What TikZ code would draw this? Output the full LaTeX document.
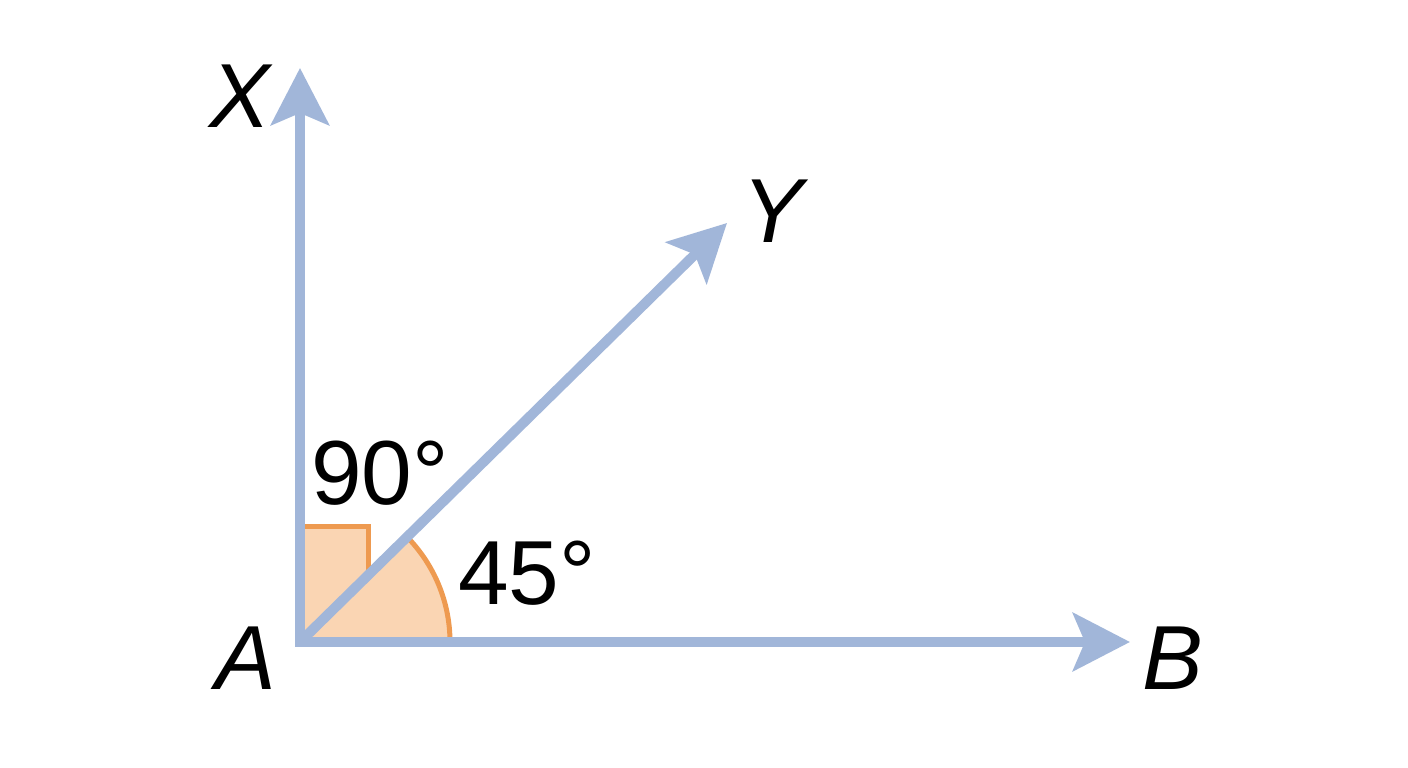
\documentclass[tikz,border=0pt]{standalone}
\usepackage{fontspec}
\setmainfont{Liberation Sans}
\usetikzlibrary{arrows.meta}
\definecolor{rayblue}{HTML}{A1B6D9}
\definecolor{angstroke}{HTML}{EE9A50}
\definecolor{angfill}{HTML}{FAD5B3}
\begin{document}
\begin{tikzpicture}[x=1pt,y=1pt,
  ray/.style={draw=rayblue, line width=10pt, -{Stealth[length=57pt,width=58pt,inset=12pt]}},
  lbl/.style={anchor=base, inner sep=0pt, font=\fontsize{91}{100}\selectfont\itshape},
  deg/.style={anchor=base, inner sep=0pt, font=\fontsize{91}{100}\selectfont},
  angmark/.style={draw=angstroke, line width=5pt}]
\useasboundingbox (0,0) rectangle (1408,768);
\fill[white] (0,0) rectangle (1408,768);
\coordinate (A) at (300,126);
\coordinate (Xt) at (300,700);
\coordinate (Yt) at (727,545);
\coordinate (Bt) at (1130,126);
\coordinate (sqTL) at (300,241);
\coordinate (sqTR) at (368,241);
\coordinate (sqBR) at (368,194);
\coordinate (arcS) at (450,126);
% right-angle marker
\fill[angfill] (A) -- (sqTL) -- (sqTR) -- (sqBR) -- cycle;
\draw[angmark] (sqTL) -- (sqTR) -- (sqBR);
% 45 degree sector
\fill[angfill] (A) -- (arcS) arc[start angle=0, end angle=45, radius=150pt] -- cycle;
\draw[angmark] (arcS) arc[start angle=0, end angle=45, radius=150pt];
% rays
\draw[ray] (A) -- (Xt);
\draw[ray] (A) -- (Yt);
\draw[ray] ([xshift=-5pt]A) -- (Bt);
\fill[rayblue] (295,121) rectangle (305,131);
% labels
\node[lbl] (lX) at (240,640) {X};
\node[lbl] (lY) at (773,525) {Y};
\node[lbl] (lA) at (246,78) {A};
\node[lbl] (lB) at (1173,78) {B};
\node[deg] (d90) at (380,263) {90°};
\node[deg] (d45) at (527,163) {45°};
\end{tikzpicture}
\end{document}
